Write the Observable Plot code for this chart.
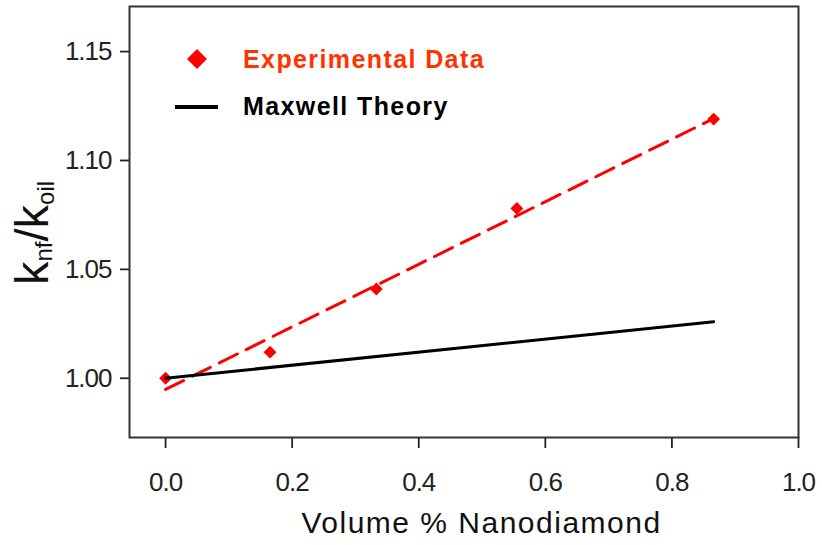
<!DOCTYPE html>
<html>
<head>
<meta charset="utf-8">
<script src="https://cdn.jsdelivr.net/npm/d3@7"></script>
<script src="https://cdn.jsdelivr.net/npm/@observablehq/plot@0.6"></script>
<style>
  body { margin: 0; background: #fff; }
  #chart svg g[aria-label="y-axis tick label"] text,
  #chart svg g[aria-label="x-axis tick label"] text { letter-spacing: -1px; }
</style>
</head>
<body>
<div id="chart"></div>
<script>
// Thermal conductivity ratio of nanodiamond/oil nanofluids
const volumePct = [0, 0.165, 0.333, 0.555, 0.866];
const kRatio = [1.000, 1.012, 1.041, 1.078, 1.119];
const maxwellPct = [0, 0.866];
const maxwellRatio = [1.000, 1.026];
const xTicks = [0, 0.2, 0.4, 0.6, 0.8, 1.0];
const yTicks = [1.00, 1.05, 1.10, 1.15];
const seriesNames = ["Experimental Data", "Maxwell Theory"];
const xTitle = "Volume % Nanodiamond";

const experiment = volumePct.map((x, i) => ({x, y: kRatio[i]}));
const maxwell = maxwellPct.map((x, i) => ({x, y: maxwellRatio[i]}));

const fontFamily = '"Liberation Sans", Arial, Helvetica, sans-serif';
const red = "#ff0000";

const plot = Plot.plot({
  width: 822,
  height: 545,
  marginLeft: 129,
  marginRight: 24,
  marginTop: 6,
  marginBottom: 108,
  style: {fontFamily, background: "#fff", overflow: "visible"},
  x: {domain: [-0.057, 1.0]},
  y: {domain: [0.9728, 1.1707]},
  marks: [
    Plot.axisX(xTicks, {
      tickSize: 11, tickPadding: 24, fontSize: 26,
      tickFormat: d3.format(".1f"), color: "#222", strokeWidth: 1.8, label: null
    }),
    Plot.axisY(yTicks, {
      tickSize: 9, tickPadding: 9, fontSize: 26,
      tickFormat: d3.format(".2f"), color: "#222", strokeWidth: 1.8, label: null
    }),
    Plot.dot(experiment, {x: "x", y: "y", symbol: "diamond2", r: 5.8, fill: red, stroke: "none"}),
    Plot.linearRegressionY(experiment, {
      x: "x", y: "y", ci: 0, stroke: red, strokeWidth: 3, strokeDasharray: "20,10"
    }),
    Plot.line(maxwell, {x: "x", y: "y", stroke: "#000", strokeWidth: 3}),
    Plot.frame({stroke: "#333", strokeWidth: 2})
  ]
});

document.getElementById("chart").append(plot);

const svg = d3.select(plot);
const xs = plot.scale("x");

// x-axis title
svg.append("text")
  .attr("x", xs.apply(0.5))
  .attr("y", 533)
  .attr("text-anchor", "middle")
  .attr("font-size", 30)
  .attr("letter-spacing", "1.5px")
  .attr("fill", "#111")
  .text(xTitle);

// y-axis title: k_nf / k_oil
const yTitle = svg.append("text")
  .attr("transform", "translate(48,233) rotate(-90)")
  .attr("text-anchor", "middle")
  .attr("fill", "#111");
yTitle.append("tspan").attr("font-size", 47).text("k");
yTitle.append("tspan").attr("font-size", 24).attr("dy", 4).text("nf");
yTitle.append("tspan").attr("font-size", 47).attr("dy", -4).text("/");
yTitle.append("tspan").attr("font-size", 47).text("k");
yTitle.append("tspan").attr("font-size", 24).attr("dy", 6).text("oil");

// legend
const legend = svg.append("g")
  .attr("text-anchor", "start")
  .attr("font-weight", "bold")
  .attr("font-size", 25)
  .attr("letter-spacing", "1.4px");
legend.append("path")
  .attr("transform", "translate(197,59)")
  .attr("d", d3.symbol(d3.symbolDiamond2, 255)())
  .attr("fill", red);
legend.append("text")
  .attr("x", 243).attr("y", 68)
  .attr("fill", "#ff3300")
  .text(seriesNames[0]);
legend.append("line")
  .attr("x1", 175).attr("x2", 218)
  .attr("y1", 107).attr("y2", 107)
  .attr("stroke", "#000").attr("stroke-width", 4);
legend.append("text")
  .attr("x", 243).attr("y", 115)
  .attr("fill", "#000")
  .text(seriesNames[1]);
</script>
</body>
</html>
